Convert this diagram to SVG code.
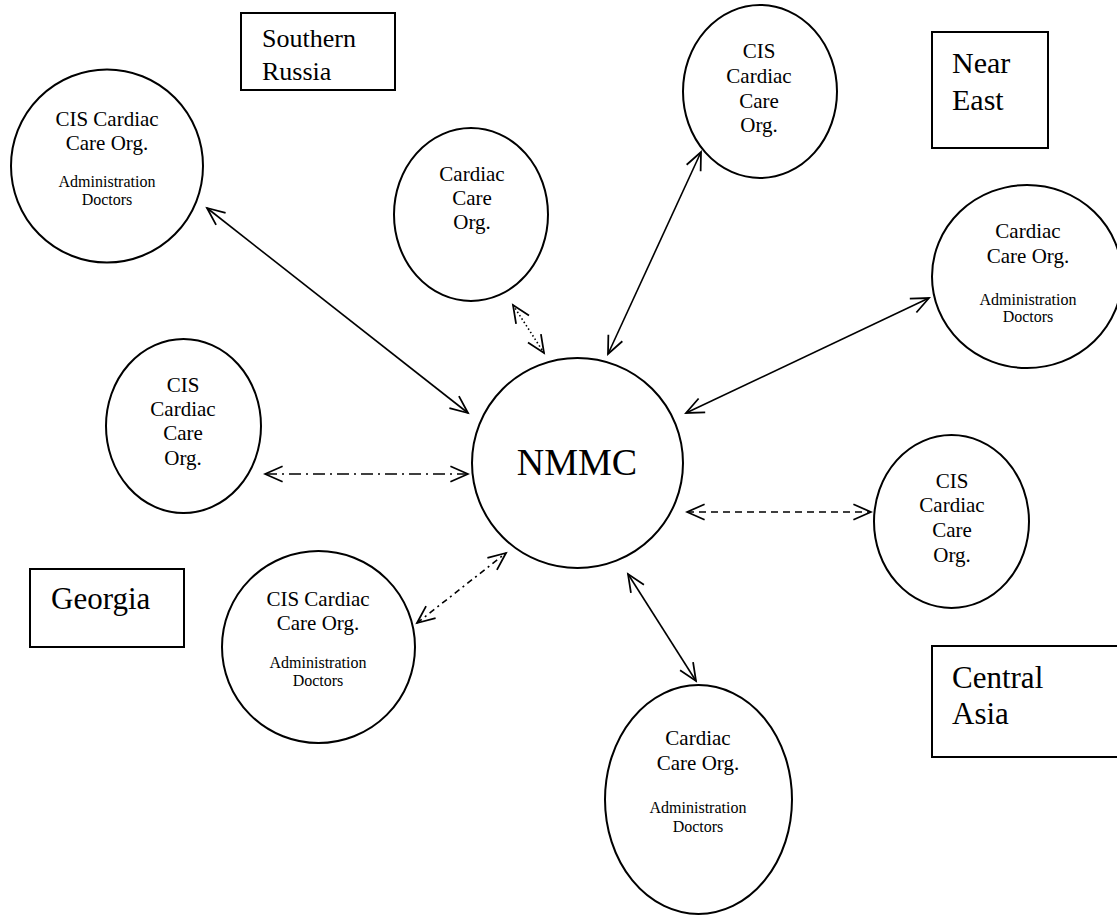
<svg xmlns="http://www.w3.org/2000/svg" width="1117" height="915" viewBox="0 0 1117 915">
<defs>
<marker id="ah" markerUnits="userSpaceOnUse" markerWidth="22" markerHeight="22" viewBox="0 0 20 20" refX="18" refY="9" orient="auto-start-reverse">
<path d="M2,2 L18,9 L2,16" fill="none" stroke="#000" stroke-width="1.6" stroke-linejoin="miter"/>
</marker>
</defs>
<style>
.node{fill:#fff;stroke:#000;stroke-width:2}
.box{fill:#fff;stroke:#000;stroke-width:2}
.t{font-family:"Liberation Serif","Times New Roman",serif;fill:#000;text-anchor:middle}
.m{font-size:21px}
.s{font-size:16px}
.r{font-family:"Liberation Serif","Times New Roman",serif;fill:#000}
.c{fill:none;stroke:#000;stroke-width:1.6;marker-start:url(#ah);marker-end:url(#ah)}
</style>
<rect width="1117" height="915" fill="#fff"/>
<g id="connectors">
<line class="c" x1="207" y1="208" x2="468" y2="413"/>
<line class="c" x1="513" y1="305" x2="544" y2="353" stroke-dasharray="1.5,2.5"/>
<line class="c" x1="701" y1="152" x2="608" y2="354"/>
<line class="c" x1="686" y1="413" x2="929" y2="298"/>
<line class="c" x1="265" y1="474" x2="468" y2="474" stroke-dasharray="12,5,2,5"/>
<line class="c" x1="687" y1="512" x2="871" y2="512" stroke-dasharray="7,5"/>
<line class="c" x1="417" y1="623" x2="506" y2="553" stroke-dasharray="6,4,2,4"/>
<line class="c" x1="628" y1="574" x2="696" y2="681"/>
</g>
<g id="region-southern-russia">
<rect class="box" x="241" y="13" width="154" height="77"/>
<text class="r" font-size="26" x="262" y="47">Southern</text>
<text class="r" font-size="26" x="262" y="80">Russia</text>
</g>
<g id="region-near-east">
<rect class="box" x="932" y="32" width="116" height="116"/>
<text class="r" font-size="30" x="952" y="73">Near</text>
<text class="r" font-size="30" x="952" y="110">East</text>
</g>
<g id="region-georgia">
<rect class="box" x="30" y="569" width="154" height="78"/>
<text class="r" font-size="31" x="51" y="609">Georgia</text>
</g>
<g id="region-central-asia">
<rect class="box" x="932" y="646" width="190" height="111"/>
<text class="r" font-size="31" x="952" y="688">Central</text>
<text class="r" font-size="31" x="952" y="724">Asia</text>
</g>
<g id="node-nmmc">
<ellipse class="node" cx="577.5" cy="463" rx="105.5" ry="105"/>
<text class="t" font-size="38" x="577" y="475">NMMC</text>
</g>
<g id="node-cis-topleft">
<ellipse class="node" cx="107" cy="166" rx="96" ry="96.5"/>
<text class="t m" x="107" y="126">CIS Cardiac</text>
<text class="t m" x="107" y="150">Care Org.</text>
<text class="t s" x="107" y="187">Administration</text>
<text class="t s" x="107" y="205">Doctors</text>
</g>
<g id="node-cardiac-top">
<ellipse class="node" cx="471" cy="214.5" rx="77" ry="86.5"/>
<text class="t m" x="472" y="181">Cardiac</text>
<text class="t m" x="472" y="205">Care</text>
<text class="t m" x="472" y="229">Org.</text>
</g>
<g id="node-cis-topright">
<ellipse class="node" cx="760" cy="91.5" rx="77" ry="86.5"/>
<text class="t m" x="759" y="58">CIS</text>
<text class="t m" x="759" y="83">Cardiac</text>
<text class="t m" x="759" y="108">Care</text>
<text class="t m" x="759" y="132">Org.</text>
</g>
<g id="node-cardiac-right">
<ellipse class="node" cx="1027" cy="276.5" rx="95" ry="91.5"/>
<text class="t m" x="1028" y="238">Cardiac</text>
<text class="t m" x="1028" y="263">Care Org.</text>
<text class="t s" x="1028" y="305">Administration</text>
<text class="t s" x="1028" y="322">Doctors</text>
</g>
<g id="node-cis-left">
<ellipse class="node" cx="183.5" cy="426" rx="77.5" ry="87"/>
<text class="t m" x="183" y="392">CIS</text>
<text class="t m" x="183" y="416">Cardiac</text>
<text class="t m" x="183" y="440">Care</text>
<text class="t m" x="183" y="465">Org.</text>
</g>
<g id="node-cis-right">
<ellipse class="node" cx="951.5" cy="521.5" rx="77.5" ry="86.5"/>
<text class="t m" x="952" y="488">CIS</text>
<text class="t m" x="952" y="512">Cardiac</text>
<text class="t m" x="952" y="537">Care</text>
<text class="t m" x="952" y="562">Org.</text>
</g>
<g id="node-cis-georgia">
<ellipse class="node" cx="318.5" cy="647" rx="96.5" ry="96"/>
<text class="t m" x="318" y="606">CIS Cardiac</text>
<text class="t m" x="318" y="630">Care Org.</text>
<text class="t s" x="318" y="668">Administration</text>
<text class="t s" x="318" y="686">Doctors</text>
</g>
<g id="node-cardiac-bottom">
<ellipse class="node" cx="698.5" cy="799.5" rx="93.5" ry="114.5"/>
<text class="t m" x="698" y="745">Cardiac</text>
<text class="t m" x="698" y="770">Care Org.</text>
<text class="t s" x="698" y="813">Administration</text>
<text class="t s" x="698" y="832">Doctors</text>
</g>
</svg>
